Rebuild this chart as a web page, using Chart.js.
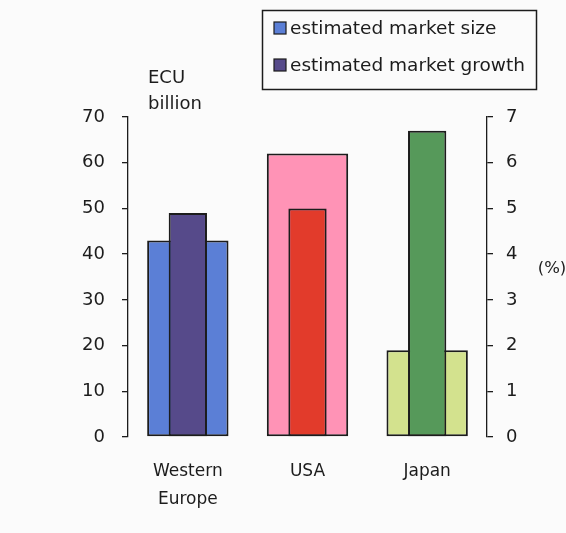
<!DOCTYPE html>
<html>
<head>
<meta charset="utf-8">
<script src="https://cdn.jsdelivr.net/npm/chart.js@4/dist/chart.umd.min.js"></script>
<style>
  html, body { margin: 0; padding: 0; background: #fbfbfb; }
  canvas { display: block; }
</style>
</head>
<body>
<canvas id="c" width="566" height="533"></canvas>
<script>
// Regions shown on the category axis
const regions = [['Western', 'Europe'], 'USA', 'Japan'];
// Estimated market size, ECU billion (left axis)
const marketSize = [43, 62, 19];
// Estimated market growth, % (right axis)
const marketGrowth = [4.9, 5.0, 6.7];
// Axis tick values
const sizeTicks = [0, 10, 20, 30, 40, 50, 60, 70];
const growthTicks = [0, 1, 2, 3, 4, 5, 6, 7];
// Legend entries
const legendLabels = ['estimated market size', 'estimated market growth'];

const sizeColors = ['#5b7fd6', '#ff93b6', '#d3e28e'];
const growthColors = ['#564a8a', '#e23b2b', '#56995a'];
const ink = '#1c1c1c';
const FONT = '"DejaVu Sans", sans-serif';

// Boxed legend, axis caption and unit label drawn onto the canvas
const decorations = {
  id: 'decorations',
  afterDraw(chart) {
    const ctx = chart.ctx;
    ctx.save();
    // legend frame
    ctx.strokeStyle = ink;
    ctx.lineWidth = 1.5;
    ctx.strokeRect(262.5, 10.5, 274, 79);
    const swatches = [sizeColors[0], growthColors[0]];
    const rowsY = [28, 65];
    ctx.font = '18.5px ' + FONT;
    ctx.textBaseline = 'middle';
    ctx.textAlign = 'left';
    legendLabels.forEach((txt, i) => {
      ctx.fillStyle = swatches[i];
      ctx.fillRect(274, rowsY[i] - 6, 12, 12);
      ctx.lineWidth = 1.2;
      ctx.strokeStyle = ink;
      ctx.strokeRect(274, rowsY[i] - 6, 12, 12);
      ctx.fillStyle = ink;
      ctx.fillText(txt, 290, rowsY[i] + 1);
    });
    // left axis caption
    ctx.font = '18px ' + FONT;
    ctx.fillText('ECU', 148, 78);
    ctx.fillText('billion', 148, 104);
    // right axis unit
    ctx.textAlign = 'center';
    ctx.font = '16.5px ' + FONT;
    ctx.fillText('(%)', 552, 269);
    ctx.restore();
  }
};

new Chart(document.getElementById('c'), {
  type: 'bar',
  data: {
    labels: regions,
    datasets: [
      {
        label: legendLabels[1],
        data: marketGrowth,
        yAxisID: 'y1',
        backgroundColor: growthColors,
        borderColor: ink,
        borderWidth: 2,
        borderSkipped: false,
        grouped: false,
        order: 1,
        barPercentage: 0.32,
        categoryPercentage: 1.0
      },
      {
        label: legendLabels[0],
        data: marketSize,
        yAxisID: 'y',
        backgroundColor: sizeColors,
        borderColor: ink,
        borderWidth: 2,
        borderSkipped: false,
        grouped: false,
        order: 2,
        barPercentage: 0.68,
        categoryPercentage: 1.0
      }
    ]
  },
  options: {
    responsive: false,
    animation: false,
    layout: { padding: { top: 117, left: 0, right: 0, bottom: 0 } },
    plugins: {
      legend: { display: false },
      tooltip: { enabled: false }
    },
    scales: {
      x: {
        grid: { display: false },
        border: { display: false },
        ticks: {
          color: ink,
          font: { family: FONT, size: 17, lineHeight: 1.65 },
          padding: 13,
          maxRotation: 0
        },
        afterFit(scale) { scale.height = 96; }
      },
      y: {
        position: 'left',
        min: 0,
        max: 70,
        afterBuildTicks(scale) { scale.ticks = sizeTicks.map(v => ({ value: v })); },
        grid: { drawOnChartArea: false, color: ink, tickLength: 6, lineWidth: 1.3 },
        border: { color: ink, width: 1.3 },
        ticks: {
          color: ink,
          font: { family: FONT, size: 18 },
          padding: 17
        },
        afterFit(scale) { scale.width = 128; }
      },
      y1: {
        position: 'right',
        min: 0,
        max: 7,
        afterBuildTicks(scale) { scale.ticks = growthTicks.map(v => ({ value: v })); },
        grid: { drawOnChartArea: false, color: ink, tickLength: 6, lineWidth: 1.3 },
        border: { color: ink, width: 1.3 },
        ticks: {
          color: ink,
          font: { family: FONT, size: 18 },
          padding: 13
        },
        afterFit(scale) { scale.width = 79; }
      }
    }
  },
  plugins: [decorations]
});
</script>
</body>
</html>
